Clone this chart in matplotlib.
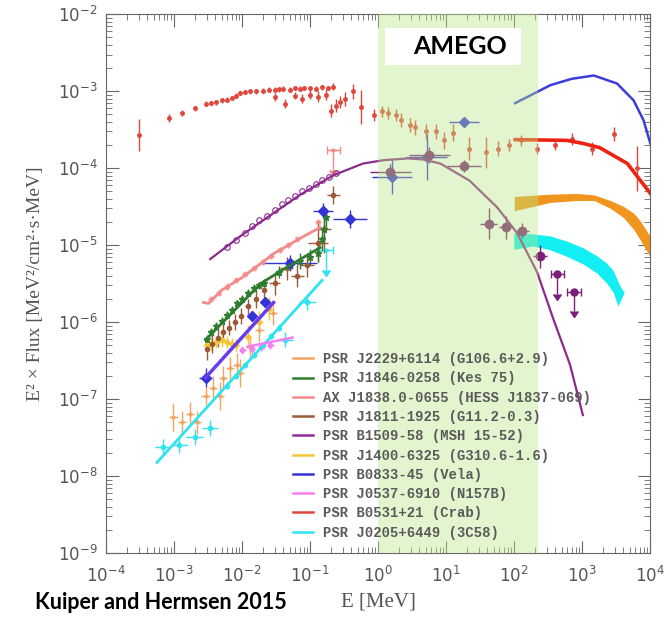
import numpy as np
import matplotlib.pyplot as plt
from matplotlib.lines import Line2D
from matplotlib.patches import Rectangle

# ---- data (E in MeV, E^2 x Flux in MeV^2/cm^2/s/MeV) ----
# Crab: soft X-ray, hard X-ray, COMPTEL/Fermi points
crab_e = [3.1e-4, 8.5e-4, 1.3e-3, 2.0e-3, 2.9e-3, 3.5e-3, 4.2e-3, 5.0e-3, 6.0e-3, 7.0e-3,
          8.0e-3, 9.3e-3, 0.011, 0.013, 0.016, 0.020, 0.025, 0.030, 0.035, 0.040,
          0.050, 0.060, 0.070, 0.080, 0.10, 0.12, 0.15, 0.18, 0.22,
          0.030, 0.042, 0.060, 0.075, 0.10, 0.13, 0.17, 0.20, 0.24, 0.27, 0.33, 0.43, 0.55,
          0.87, 1.15, 1.4, 1.8, 2.2, 2.9, 3.5, 5.1, 7.1, 9.3, 12.6, 21.8, 39, 58, 85,
          126, 218, 400, 710, 1400, 2900, 6400]
crab_f = [2.7e-4, 4.5e-4, 5.2e-4, 6.0e-4, 6.9e-4, 7.0e-4, 7.2e-4, 7.6e-4, 7.8e-4, 8.2e-4,
          8.8e-4, 9.5e-4, 9.8e-4, 1.0e-3, 1.0e-3, 1.02e-3, 1.05e-3, 1.05e-3, 1.06e-3, 1.08e-3,
          1.05e-3, 1.1e-3, 1.08e-3, 1.1e-3, 1.1e-3, 1.08e-3, 1.12e-3, 1.1e-3, 1.15e-3,
          8.5e-4, 6.9e-4, 8.8e-4, 8.0e-4, 9.0e-4, 8.5e-4, 9.0e-4, 5.6e-4, 6.5e-4, 7.2e-4, 8.0e-4, 1.0e-3, 6.2e-4,
          4.9e-4, 5.5e-4, 5.2e-4, 4.9e-4, 4.2e-4, 3.6e-4, 3.4e-4, 3.0e-4, 3.0e-4, 2.3e-4, 2.9e-4, 1.8e-4, 1.6e-4, 1.8e-4, 2.0e-4,
          2.3e-4, 1.8e-4, 2.0e-4, 2.4e-4, 1.8e-4, 2.8e-4, 1.0e-4]
crab_dy = [0.21, 0.05, 0.04, 0.03, 0.03, 0.03, 0.03, 0.03, 0.03, 0.03,
           0.03, 0.03, 0.03, 0.03, 0.03, 0.03, 0.03, 0.03, 0.03, 0.03,
           0.03, 0.03, 0.03, 0.03, 0.03, 0.03, 0.03, 0.03, 0.05,
           0.05, 0.06, 0.05, 0.06, 0.06, 0.07, 0.07, 0.08, 0.08, 0.08, 0.09, 0.10, 0.22,
           0.08, 0.07, 0.08, 0.08, 0.09, 0.09, 0.10, 0.10, 0.10, 0.11, 0.11, 0.15, 0.20, 0.10, 0.08,
           0.07, 0.07, 0.07, 0.08, 0.09, 0.09, 0.29]
crab_curve_e = [103, 590, 1020, 1800, 4600, 1e4]
crab_curve_f = [2.35e-4, 2.3e-4, 2.1e-4, 1.85e-4, 1.15e-4, 4.7e-5]

# Vela
vela_e = [2.9e-3, 0.014, 0.022, 0.051, 0.155, 0.39, 1.6, 5.2, 18]
vela_f = [1.9e-7, 1.2e-6, 1.8e-6, 5.9e-6, 2.8e-5, 2.2e-5, 7.6e-5, 1.4e-4, 4.0e-4]
vela_dy = [0.12, 0.06, 0.06, 0.10, 0.10, 0.12, 0.22, 0.30, 0.05]
vela_dx = [0.10, 0.04, 0.04, 0.40, 0.15, 0.25, 0.30, 0.30, 0.22]
vela_line_e = [2.9e-3, 0.029]
vela_line_f = [1.9e-7, 1.8e-6]
vela_curve_e = [103, 340, 700, 1480, 3240, 5680, 7940, 1e4]
vela_curve_f = [7.0e-4, 1.2e-3, 1.45e-3, 1.6e-3, 1.26e-3, 7.6e-4, 4.2e-4, 2.1e-4]

# PSR B1509-58
b1509_curve_e = [3.4e-3, 9.3e-3, 0.027, 0.071, 0.22, 0.6, 1.2, 2.7, 4.5, 8.2, 22, 56, 110, 218, 375, 660, 1020]
b1509_curve_f = [6.6e-6, 1.3e-5, 2.5e-5, 4.5e-5, 8.1e-5, 1.15e-4, 1.27e-4, 1.34e-4, 1.3e-4, 1.15e-4,
                 6.9e-5, 3.1e-5, 1.44e-5, 4.4e-6, 1.1e-6, 2.8e-7, 6.2e-8]
b1509_circ_e = [0.006, 0.008, 0.011, 0.014, 0.018, 0.023, 0.030, 0.038, 0.048, 0.060, 0.075, 0.095, 0.12, 0.15, 0.19, 0.24]
b1509_circ_f = [9.5e-6, 1.15e-5, 1.45e-5, 1.75e-5, 2.1e-5, 2.4e-5, 2.9e-5, 3.4e-5, 3.9e-5, 4.3e-5,
                5.0e-5, 5.6e-5, 6.3e-5, 7.0e-5, 7.8e-5, 8.6e-5]
b1509_e = [1.5, 5.6, 18, 42, 76, 131, 240]
b1509_f = [8.9e-5, 1.48e-4, 1.07e-4, 1.9e-5, 1.7e-5, 1.55e-5, 7.2e-6]
b1509_dy = [0.10, 0.10, 0.08, 0.20, 0.15, 0.10, 0.15]
b1509_dx = [0.30, 0.30, 0.25, 0.12, 0.10, 0.10, 0.10]
b1509_ul_e = [430, 760]
b1509_ul_f = [4.2e-6, 2.5e-6]

# PSR J1846-0258 (Kes 75)
kes75_line_e = [2.9e-3, 0.019, 0.051, 0.14]
kes75_line_f = [5.9e-7, 3.2e-6, 5.5e-6, 9.3e-6]
kes75_e = [3.0e-3, 3.5e-3, 4.2e-3, 5.0e-3, 6.0e-3, 7.0e-3, 8.5e-3, 0.010, 0.012, 0.015, 0.018,
           0.021, 0.035, 0.050, 0.070, 0.10, 0.13, 0.15, 0.16, 0.17]
kes75_f = [6.0e-7, 7.5e-7, 9.0e-7, 1.05e-6, 1.25e-6, 1.45e-6, 1.75e-6, 2.0e-6, 2.4e-6, 2.8e-6, 3.0e-6,
           3.2e-6, 4.5e-6, 5.5e-6, 6.2e-6, 7.0e-6, 8.0e-6, 1.2e-5, 1.6e-5, 2.3e-5]
kes75_dy = [0.05] * 12 + [0.08, 0.08, 0.10, 0.10, 0.12, 0.15, 0.15, 0.12]

# PSR J1811-1925
j1811_e = [3.0e-3, 3.6e-3, 4.4e-3, 5.3e-3, 6.4e-3, 7.8e-3, 9.5e-3, 0.012, 0.016, 0.021, 0.030,
           0.045, 0.065, 0.090, 0.13, 0.16, 0.22]
j1811_f = [4.5e-7, 5.2e-7, 6.3e-7, 7.5e-7, 8.5e-7, 1.0e-6, 1.2e-6, 1.6e-6, 2.0e-6, 2.6e-6, 3.2e-6,
           5.0e-6, 4.0e-6, 5.5e-6, 1.07e-5, 1.6e-5, 4.5e-5]
j1811_dy = [0.15, 0.12, 0.12, 0.10, 0.10, 0.10, 0.10, 0.10, 0.12, 0.12, 0.15,
            0.15, 0.15, 0.15, 0.25, 0.30, 0.12]
j1811_dx = [0.03] * 10 + [0.08, 0.10, 0.10, 0.10, 0.15, 0.10, 0.10]

# AX J1838.0-0655
ax1838_line_e = [2.7e-3, 3.2e-3, 5.0e-3, 0.010, 0.030, 0.080, 0.14]
ax1838_line_f = [1.8e-6, 1.75e-6, 2.6e-6, 3.8e-6, 7.9e-6, 1.3e-5, 1.7e-5]
ax1838_e = [3.5e-3, 4.5e-3, 6.0e-3, 8.0e-3, 0.011, 0.015, 0.020, 0.027, 0.036, 0.048, 0.065, 0.13]
ax1838_f = [2.0e-6, 2.4e-6, 2.9e-6, 3.5e-6, 4.2e-6, 5.0e-6, 6.0e-6, 7.2e-6, 8.6e-6, 1.0e-5, 1.2e-5, 2.0e-5]
ax1838_ul_e = [0.22]
ax1838_ul_f = [1.7e-4]

# PSR J1400-6325
j1400_e = [3.0e-3, 3.5e-3, 4.2e-3, 5.0e-3, 6.0e-3, 7.0e-3, 8.0e-3, 0.012, 0.018, 0.025]
j1400_f = [5.0e-7, 5.2e-7, 5.5e-7, 5.8e-7, 5.5e-7, 5.2e-7, 5.0e-7, 6.5e-7, 1.0e-6, 1.5e-6]
j1400_dy = [0.08, 0.08, 0.08, 0.08, 0.08, 0.08, 0.08, 0.15, 0.15, 0.15]

# PSR J0537-6910 (N157B)
n157b_line_e = [0.012, 0.055]
n157b_line_f = [4.8e-7, 6.3e-7]
n157b_e = [0.010, 0.014, 0.019, 0.026]
n157b_f = [4.3e-7, 4.5e-7, 4.8e-7, 5.0e-7]

# PSR J2229+6114
j2229_e = [9.8e-4, 1.3e-3, 1.7e-3, 2.2e-3, 2.9e-3, 3.7e-3, 4.7e-3, 5.3e-3, 6.6e-3, 8.4e-3,
           9.3e-3, 0.013, 0.018, 0.028]
j2229_f = [5.8e-8, 5.0e-8, 6.5e-8, 5.0e-8, 1.1e-7, 1.4e-7, 1.1e-7, 1.9e-7, 2.5e-7, 2.8e-7,
           2.2e-7, 4.7e-7, 7.8e-7, 1.3e-6]
j2229_dy = [0.18, 0.15, 0.15, 0.15, 0.12, 0.15, 0.18, 0.15, 0.15, 0.15, 0.18, 0.15, 0.15, 0.15]

# PSR J0205+6449 (3C58)
c58_line_e = [5.6e-4, 0.15]
c58_line_f = [1.5e-8, 3.5e-6]
c58_e = [6.9e-4, 1.2e-3, 2.0e-3, 3.4e-3, 0.043, 0.091]
c58_f = [2.4e-8, 2.5e-8, 3.2e-8, 4.2e-8, 5.9e-7, 1.8e-6]
c58_dot_e = [0.006, 0.008, 0.011, 0.015, 0.020, 0.027, 0.035]
c58_dot_f = [1.5e-7, 2.0e-7, 2.8e-7, 3.7e-7, 5.0e-7, 6.6e-7, 8.5e-7]
c58_ul_e = [0.17]
c58_ul_f = [8.7e-6]

# high-energy model bands
orange_band_e = [100, 340, 830, 1500, 2600, 4000, 5700, 7000, 1e4]
orange_band_hi = [4.3e-5, 4.6e-5, 4.7e-5, 4.5e-5, 3.8e-5, 3.2e-5, 2.6e-5, 2.1e-5, 1.3e-5]
orange_band_lo = [2.8e-5, 3.6e-5, 3.8e-5, 3.8e-5, 3.0e-5, 2.3e-5, 1.6e-5, 1.2e-5, 7.0e-6]
cyan_band_hi_e = [100, 190, 340, 590, 1050, 1650, 2300, 2900, 3640, 4200]
cyan_band_hi = [1.42e-5, 1.38e-5, 1.3e-5, 1.12e-5, 9.1e-6, 7.2e-6, 5.8e-6, 4.6e-6, 2.9e-6, 2.4e-6]
cyan_band_lo_e = [100, 190, 340, 590, 1050, 1650, 2300, 2900, 3400]
cyan_band_lo = [8.7e-6, 9.6e-6, 8.6e-6, 7.1e-6, 5.6e-6, 4.3e-6, 3.2e-6, 2.4e-6, 1.6e-6]

amego_range = [1.0, 220.0]
amego_box_e = [1.27, 126.0]
amego_box_f = [2.2e-3, 6.6e-3]

legend_labels = ['PSR J2229+6114 (G106.6+2.9)', 'PSR J1846-0258 (Kes 75)',
                 'AX J1838.0-0655 (HESS J1837-069)', 'PSR J1811-1925 (G11.2-0.3)',
                 'PSR B1509-58 (MSH 15-52)', 'PSR J1400-6325 (G310.6-1.6)',
                 'PSR B0833-45 (Vela)', 'PSR J0537-6910 (N157B)',
                 'PSR B0531+21 (Crab)', 'PSR J0205+6449 (3C58)']
legend_colors = ['#f2a561', '#2e7d2e', '#f38b8b', '#9b5a35', '#8e2c91',
                 '#f7c533', '#3434d6', '#f57ef5', '#e0463c', '#2fe3f0']

C_J2229, C_KES, C_AX, C_J1811, C_B1509, C_J1400, C_VELA, C_N157B, C_CRAB, C_3C58 = legend_colors

fig = plt.figure(figsize=(6.67, 6.2), dpi=100)
ax = fig.add_axes([0.159, 0.108, 0.816, 0.869])
ax.set_xscale('log')
ax.set_yscale('log')


def errpts(e, f, dy, dx=None, color='k', ms=3, marker='o', **kw):
    e = np.asarray(e, float)
    f = np.asarray(f, float)
    dy = np.asarray(dy, float)
    yerr = [f - f / 10**dy, f * 10**dy - f]
    xerr = None
    if dx is not None:
        dx = np.asarray(dx, float)
        xerr = [e - e / 10**dx, e * 10**dx - e]
    ax.errorbar(e, f, yerr=yerr, xerr=xerr, fmt=marker, color=color, ms=ms,
                elinewidth=1, capsize=0, lw=0, **kw)


def upper_limits(e, f, color, ms=5):
    e = np.asarray(e, float)
    f = np.asarray(f, float)
    ax.errorbar(e, f, yerr=f * 0.45, xerr=[e - e / 10**0.1, e * 10**0.1 - e], uplims=True,
                fmt='o', color=color, ms=ms, elinewidth=1, capsize=3)


# model bands at high energy
ax.fill_between(orange_band_e, orange_band_lo, orange_band_hi, color='#f0961e', lw=0, zorder=2)
ax.fill(cyan_band_hi_e + cyan_band_lo_e[::-1], cyan_band_hi + cyan_band_lo[::-1],
        color='#13eef2', lw=0, zorder=2)

# model curves
ax.plot(vela_curve_e, vela_curve_f, color='#3c3cdc', lw=1.8, zorder=3)
ax.plot(crab_curve_e, crab_curve_f, color='#ee2211', lw=2.6, zorder=3)
ax.plot(b1509_curve_e, b1509_curve_f, color='#8a2a8a', lw=1.6, zorder=3)

# low-energy power laws
ax.plot(c58_line_e, c58_line_f, color=C_3C58, lw=2, zorder=3)
ax.plot(ax1838_line_e, ax1838_line_f, color=C_AX, lw=2, zorder=3)
ax.plot(kes75_line_e, kes75_line_f, color=C_KES, lw=2, zorder=3)
ax.plot(vela_line_e, vela_line_f, color='#6a3cf0', lw=2.5, zorder=3)
ax.plot(n157b_line_e, n157b_line_f, color=C_N157B, lw=1.8, zorder=3)

# data points
errpts(j2229_e, j2229_f, j2229_dy, [0.06] * len(j2229_e), color=C_J2229, ms=2)
errpts(c58_e, c58_f, [0.1] * len(c58_e), [0.12] * len(c58_e), color=C_3C58, ms=3)
errpts(c58_dot_e, c58_dot_f, [0.04] * len(c58_dot_e), color=C_3C58, ms=3)
upper_limits(c58_ul_e, c58_ul_f, C_3C58, ms=2)
errpts(j1400_e, j1400_f, j1400_dy, [0.05] * len(j1400_e), color=C_J1400, ms=3)
errpts(n157b_e, n157b_f, [0.05] * len(n157b_e), [0.05] * len(n157b_e), color=C_N157B, ms=3)
errpts(ax1838_e, ax1838_f, [0.04] * len(ax1838_e), [0.04] * len(ax1838_e), color=C_AX, ms=3, marker='x')
upper_limits(ax1838_ul_e, ax1838_ul_f, C_AX, ms=2)
errpts(j1811_e, j1811_f, j1811_dy, j1811_dx, color=C_J1811, ms=3)
errpts(kes75_e, kes75_f, kes75_dy, [0.04] * len(kes75_e), color=C_KES, ms=5, marker='*')
ax.plot(b1509_circ_e, b1509_circ_f, 'o', mfc='none', mec=C_B1509, ms=4, mew=0.8, zorder=3)
errpts(vela_e, vela_f, vela_dy, vela_dx, color=C_VELA, ms=5, marker='D')
errpts(b1509_e, b1509_f, b1509_dy, b1509_dx, color='#7a1f78', ms=6)
upper_limits(b1509_ul_e, b1509_ul_f, '#7a1f78', ms=5)
errpts(crab_e, crab_f, crab_dy, [0.015] * len(crab_e), color=C_CRAB, ms=2.5)

# AMEGO energy range, tinted over the data
ax.axvspan(*amego_range, color='#b9e887', alpha=0.4, lw=0, zorder=4)
ax.add_patch(Rectangle((amego_box_e[0], amego_box_f[0]), amego_box_e[1] - amego_box_e[0],
                       amego_box_f[1] - amego_box_f[0], facecolor='white', edgecolor='none', zorder=5))
ax.text(16, 3.8e-3, 'AMEGO', family='Lato', weight='bold', fontsize=18,
        ha='center', va='center', zorder=6)

ax.set_xlim(1e-4, 1e4)
ax.set_ylim(1e-9, 1e-2)

grey = '#555555'
for s in ax.spines.values():
    s.set_color('#666666')
ax.tick_params(which='both', direction='in', top=True, right=True, colors='#666666',
               labelcolor=grey, labelsize=12)
ax.tick_params(which='major', length=9, pad=6)
ax.tick_params(which='minor', length=4)
ax.tick_params(axis='x', pad=9)

ax.set_ylabel('E² × Flux [MeV²/cm²·s·MeV]', family='Liberation Serif', fontsize=14, color=grey,
              labelpad=10)
ax.set_xlabel('E [MeV]', family='Liberation Serif', fontsize=15, color=grey, labelpad=5)

handles = [Line2D([], [], color=c, lw=1.8) for c in legend_colors]
leg = ax.legend(handles, legend_labels, loc='lower left', bbox_to_anchor=(0.33, 0.012),
                frameon=False, prop={'family': 'Liberation Mono', 'size': 10, 'weight': 'bold'},
                handlelength=1.5, handletextpad=0.7, labelspacing=0.38, borderpad=0)
for t in leg.get_texts():
    t.set_color('#5a5a5a')

fig.text(0.052, 0.012, 'Kuiper and Hermsen 2015', family='Lato', weight='bold', fontsize=15.5,
         ha='left', va='bottom', color='black')

fig.savefig('out.png', dpi=100)
